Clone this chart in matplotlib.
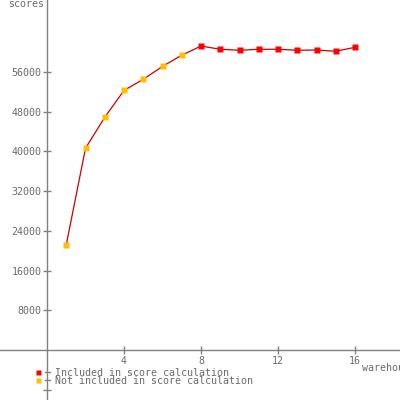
import matplotlib
matplotlib.use("Agg")
import matplotlib.pyplot as plt
from matplotlib.lines import Line2D

# datos
warehouses = [1, 2, 3, 4, 5, 6, 7, 8, 9, 10, 11, 12, 13, 14, 15, 16]
scores = [21200, 40650, 46900, 52300, 54550, 57150, 59400, 61250,
          60600, 60400, 60600, 60600, 60400, 60450, 60200, 61000]
incluido = [False] * 7 + [True] * 9

y_ticks = [-8000, 8000, 16000, 24000, 32000, 40000, 48000, 56000]
y_labels = ["", "8000", "16000", "24000", "32000", "40000", "48000", "56000"]
x_ticks = [4, 8, 12, 16]

gris = "#808080"
texto = "#6a6a6a"
rojo = "#ff0000"
naranja = "#ffbf00"
linea = "#cc0000"
fuente = "DejaVu Sans Mono"

fig = plt.figure(figsize=(4, 4), dpi=100)
ax = fig.add_axes([0, 0, 1, 1])

# escala en pixeles: x=0 en px 47, 19.25 px por unidad; y=0 en px 350 (desde arriba)
px_x = 19.25
px_y = 39.7 / 8000
ax.set_xlim(-47 / px_x, (400 - 47) / px_x)
ax.set_ylim(-50 / px_y, 350 / px_y)

ax.plot(warehouses, scores, color=linea, lw=0.9, zorder=2)
for w, s, inc in zip(warehouses, scores, incluido):
    ax.plot(w, s, marker="s", ms=4.2, mec="none",
            color=rojo if inc else naranja, zorder=3)

for lado in ["top", "right"]:
    ax.spines[lado].set_visible(False)
ax.spines["left"].set_position(("data", 0))
ax.spines["bottom"].set_position(("data", 0))
ax.spines["left"].set_color(gris)
ax.spines["bottom"].set_color(gris)
ax.spines["left"].set_linewidth(1)
ax.spines["bottom"].set_linewidth(1)

ax.set_yticks(y_ticks)
ax.set_yticklabels(y_labels)
ax.set_xticks(x_ticks)
ax.tick_params(direction="inout", length=6, width=1, color=gris,
               labelcolor=texto, labelsize=7.2)
ax.tick_params(axis="y", pad=1)
ax.tick_params(axis="x", pad=1)
for lbl in ax.get_xticklabels() + ax.get_yticklabels():
    lbl.set_fontfamily(fuente)

fig.text(8 / 400, 1 + 1 / 400, "scores", ha="left", va="top",
         fontsize=7.2, color=texto, family=fuente)
fig.text(362 / 400, 1 - 368 / 400, "warehouses", ha="left", va="center",
         fontsize=7.2, color=texto, family=fuente)

# leyenda manual
leyenda = [("Included in score calculation", rojo, 372),
           ("Not included in score calculation", naranja, 380)]
for etiqueta, color, ypx in leyenda:
    fig.add_artist(Line2D([38 / 400], [1 - ypx / 400], marker="s", ms=3.6,
                          mec="none", color=color, transform=fig.transFigure))
    fig.add_artist(Line2D([45 / 400, 50 / 400], [1 - ypx / 400, 1 - ypx / 400],
                          color=gris, lw=1, transform=fig.transFigure))
    fig.text(55 / 400, 1 - (ypx + 1) / 400, etiqueta, ha="left", va="center",
             fontsize=7.2, color=texto, family=fuente)

fig.savefig("out.png", dpi=100)
